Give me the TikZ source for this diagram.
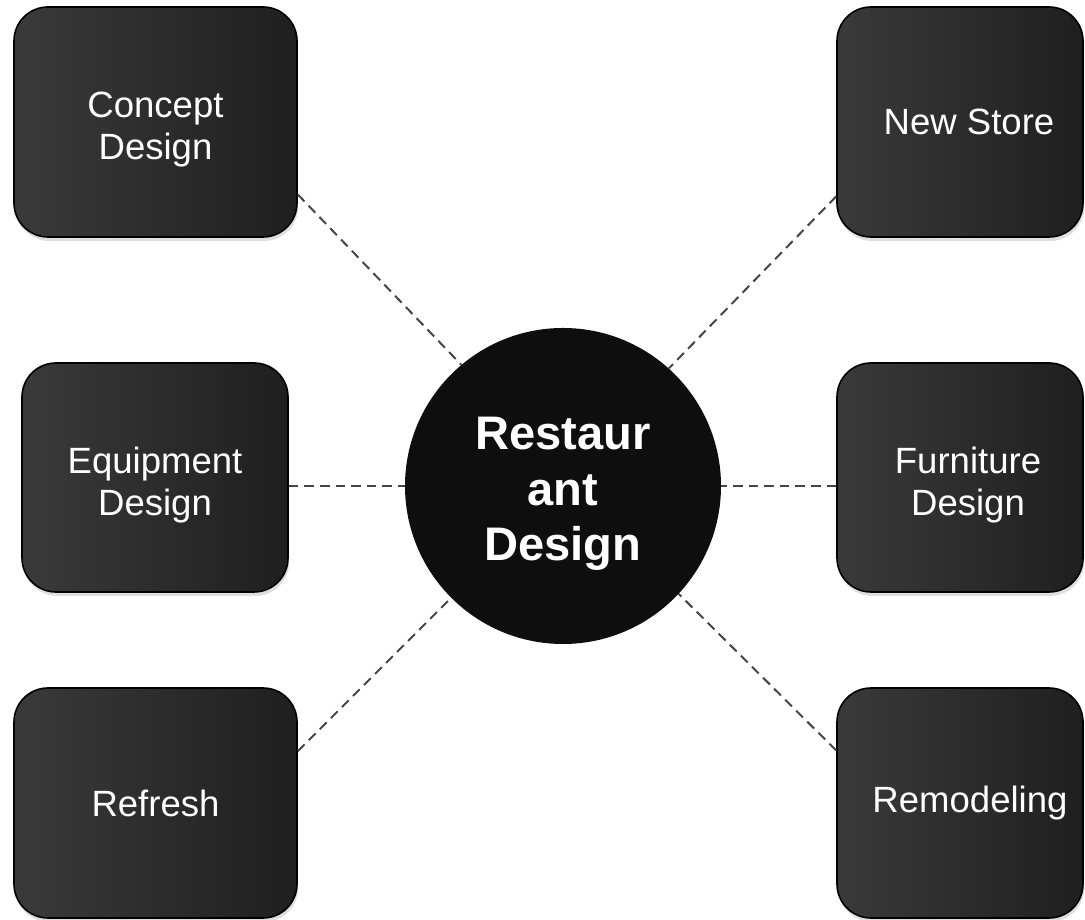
\documentclass[tikz,border=0pt]{standalone}
\usepackage{fontspec}
\setmainfont{Liberation Sans}
\usetikzlibrary{shadows}

\definecolor{boxleft}{HTML}{3A3A3A}
\definecolor{boxright}{HTML}{1F1F1F}
\definecolor{hubfill}{HTML}{0E0E0E}
\definecolor{linkgray}{HTML}{464646}

% pushes a multi-line label down a little
\newcommand{\lowerby}[1]{\rule{0pt}{#1}}

\begin{document}
\begin{tikzpicture}[x=0.25mm,y=0.25mm,
  topic/.style={rectangle, rounded corners=8.5mm, draw=black, line width=0.4mm,
    left color=boxleft, right color=boxright, text=white, align=center,
    font=\fontsize{26}{30}\selectfont, inner sep=0pt,
    drop shadow={shadow xshift=0.3mm, shadow yshift=-1mm, opacity=0.25}},
  hub/.style={circle, fill=hubfill, text=white, align=center,
    font=\fontsize{33.5}{39.7}\selectfont\bfseries, minimum size=79mm, inner sep=0pt},
  link/.style={draw=linkgray, dash pattern=on 2.4mm off 1.5mm, line width=0.5mm}]

\useasboundingbox (0,0) rectangle (1085,920);

% node boxes
\node[topic,name=concept,minimum width=70.75mm,minimum height=57.5mm] at (155.5,798) {\lowerby{10.2mm}Concept\\Design};
\node[topic,name=equip,minimum width=66.5mm,minimum height=57.25mm] at (155,442.5) {\lowerby{10.2mm}Equipment\\Design};
\node[topic,name=refresh,minimum width=70.75mm,minimum height=57.5mm] at (155.5,117) {Refresh};
\node[topic,name=newstore,minimum width=61.5mm,minimum height=57.5mm] at (960,798) {\hspace*{4.5mm}New Store};
\node[topic,name=furniture,minimum width=61.5mm,minimum height=57.25mm] at (960,442.5) {\lowerby{10.2mm}\hspace*{4mm}Furniture\\\hspace*{4mm}Design};
\node[topic,name=remodel,minimum width=61.5mm,minimum height=57.5mm] at (960,117) {\hspace*{5mm}Remodeling};

% center circle
\node[hub,name=hub] at (563,434) {\lowerby{12mm}Restaur\\ant\\Design};

% connections
\draw[link] (concept.-27) -- (hub.130);
\draw[link] (equip.east |- hub.west) -- (hub.west);
\draw[link] (refresh.20) -- (hub.225);
\draw[link] (newstore.211) -- (hub.48);
\draw[link] (furniture.west |- hub.east) -- (hub.east);
\draw[link] (remodel.157) -- (hub.-43);

\end{tikzpicture}
\end{document}
